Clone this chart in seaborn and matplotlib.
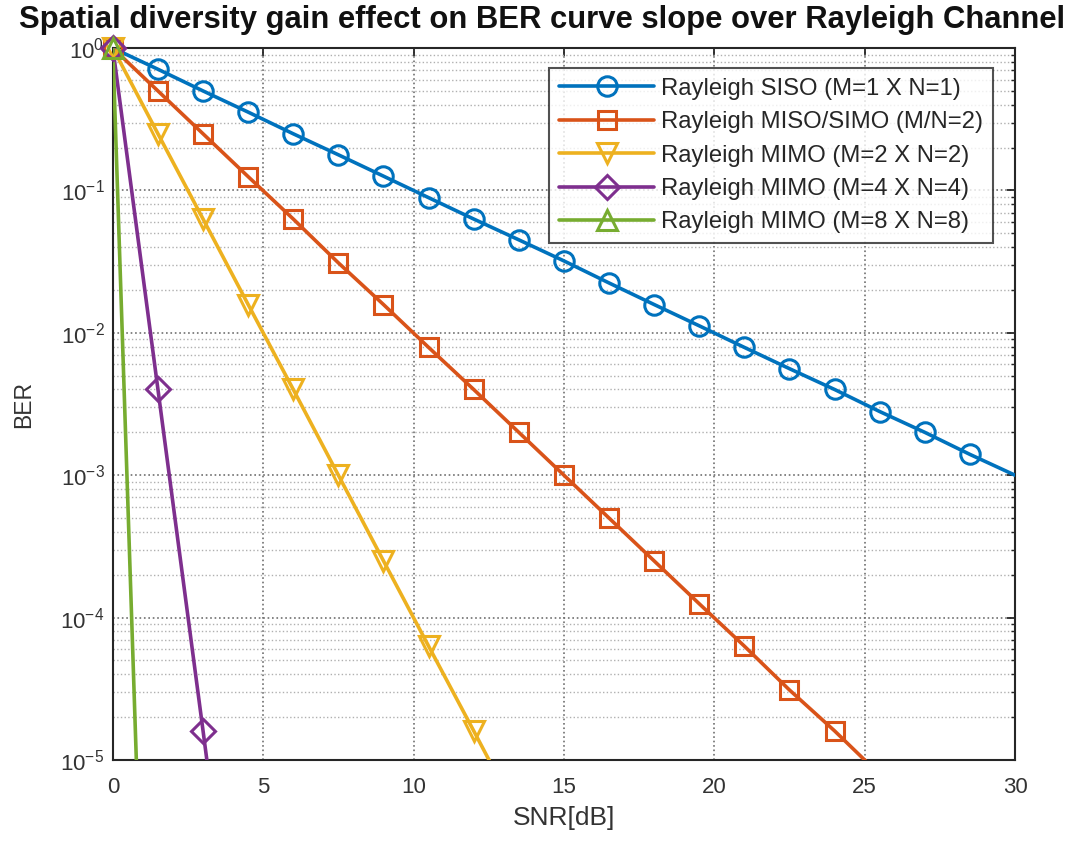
import numpy as np
import pandas as pd
import matplotlib
matplotlib.use("Agg")
import matplotlib.pyplot as plt
import seaborn as sns
from matplotlib.lines import Line2D
from matplotlib.ticker import LogLocator, FixedLocator

sns.set_style("white")
plt.rcParams['font.family'] = ['Liberation Sans', 'DejaVu Sans']
plt.rcParams['mathtext.fontset'] = 'custom'
plt.rcParams['mathtext.rm'] = 'Liberation Sans'
plt.rcParams['mathtext.it'] = 'Liberation Sans:italic'
plt.rcParams['mathtext.bf'] = 'Liberation Sans:bold'

snr = [0, 1.5, 3, 4.5, 6, 7.5, 9, 10.5, 12, 13.5, 15, 16.5, 18, 19.5, 21, 22.5, 24, 25.5, 27, 28.5, 30]
ber_siso = [1.0, 0.71, 0.50, 0.355, 0.25, 0.178, 0.126, 0.089, 0.063, 0.045, 0.032, 0.0224,
            0.0158, 0.0112, 0.0079, 0.0056, 0.004, 0.0028, 0.002, 0.0014, 0.001]
snr_miso = [0, 1.5, 3, 4.5, 6, 7.5, 9, 10.5, 12, 13.5, 15, 16.5, 18, 19.5, 21, 22.5, 24, 25.5]
ber_miso = [1.0, 0.5, 0.25, 0.125, 0.063, 0.031, 0.0158, 0.0079, 0.004, 0.002, 0.001, 5.0e-4,
            2.5e-4, 1.25e-4, 6.3e-5, 3.1e-5, 1.6e-5, 7.9e-6]
snr_2x2 = [0, 1.5, 3, 4.5, 6, 7.5, 9, 10.5, 12, 13.5]
ber_2x2 = [1.0, 0.25, 0.063, 0.0158, 0.004, 0.001, 2.5e-4, 6.3e-5, 1.6e-5, 4.0e-6]
snr_4x4 = [0, 1.5, 3, 4.5]
ber_4x4 = [1.0, 0.004, 1.6e-5, 6.0e-8]
snr_8x8 = [0, 1.5]
ber_8x8 = [1.0, 2.5e-10]

labels = ["Rayleigh SISO (M=1 X N=1)", "Rayleigh MISO/SIMO (M/N=2)", "Rayleigh MIMO (M=2 X N=2)",
          "Rayleigh MIMO (M=4 X N=4)", "Rayleigh MIMO (M=8 X N=8)"]
colors = ["#0072BD", "#D95319", "#EDB120", "#7E2F8E", "#77AC30"]
markers = ["o", "s", "v", "D", "^"]
msizes = [14, 13, 15, 12, 14]

series = [(snr, ber_siso), (snr_miso, ber_miso), (snr_2x2, ber_2x2), (snr_4x4, ber_4x4), (snr_8x8, ber_8x8)]

fig = plt.figure(figsize=(10.85, 8.51), dpi=100)
ax = fig.add_axes([0.104, 0.107, 0.8315, 0.8365])

handles = []
for (x, y), lab, c, m, ms in zip(series, labels, colors, markers, msizes):
    df = pd.DataFrame({"x": x, "y": y})
    sns.lineplot(data=df, x="x", y="y", ax=ax, color=c, linewidth=2.6, sort=False,
                 estimator=None, zorder=3)
    dm = df[(df["y"] >= 1e-5) & (df["x"] < 30)]
    sns.lineplot(data=dm, x="x", y="y", ax=ax, color=c, linestyle="", marker=m,
                 markersize=ms, markerfacecolor="none", markeredgecolor=c,
                 markeredgewidth=2.2, estimator=None, sort=False, zorder=4, clip_on=False)
    handles.append(Line2D([0], [0], color=c, linewidth=2.6, marker=m, markersize=ms,
                          markerfacecolor="none", markeredgecolor=c, markeredgewidth=2.2))

ax.set_yscale("log")
ax.set_xlim(0, 30)
ax.set_ylim(1e-5, 1)
ax.xaxis.set_major_locator(FixedLocator([0, 5, 10, 15, 20, 25, 30]))
ax.yaxis.set_major_locator(LogLocator(base=10, numticks=10))
ax.yaxis.set_minor_locator(LogLocator(base=10, subs=np.arange(2, 10), numticks=20))

ax.grid(True, which="major", linestyle=":", color="#707070", linewidth=1.2)
ax.grid(True, which="minor", axis="y", linestyle=":", color="#b0b0b0", linewidth=1.0)

for s in ax.spines.values():
    s.set_color("#262626")
    s.set_linewidth(1.5)
ax.tick_params(which="both", direction="in", top=True, right=True, color="#262626",
               labelcolor="#333333", labelsize=16)
ax.tick_params(which="major", length=6, width=1.3)
ax.tick_params(which="minor", length=3, width=1.0)
ax.tick_params(axis="x", pad=12)
ax.tick_params(axis="y", pad=6)

ax.set_xlabel("SNR[dB]", fontsize=19, color="#333333", labelpad=6)
ax.set_ylabel("BER", fontsize=16.5, color="#333333", labelpad=18)

fig.text(0.5, 0.976, "Spatial diversity gain effect on BER curve slope over Rayleigh Channel",
         ha="center", va="center", fontsize=22.3, fontweight="bold", color="#111111")

leg = ax.legend(handles, labels, loc="upper right", bbox_to_anchor=(0.9756, 0.972),
                fontsize=17.2, frameon=True, fancybox=False, handlelength=4.0,
                borderpad=0.4, labelspacing=0.48, handletextpad=0.3, borderaxespad=0)
leg.get_frame().set_edgecolor("#262626")
leg.get_frame().set_linewidth(1.5)

fig.savefig("out.png", dpi=100)
